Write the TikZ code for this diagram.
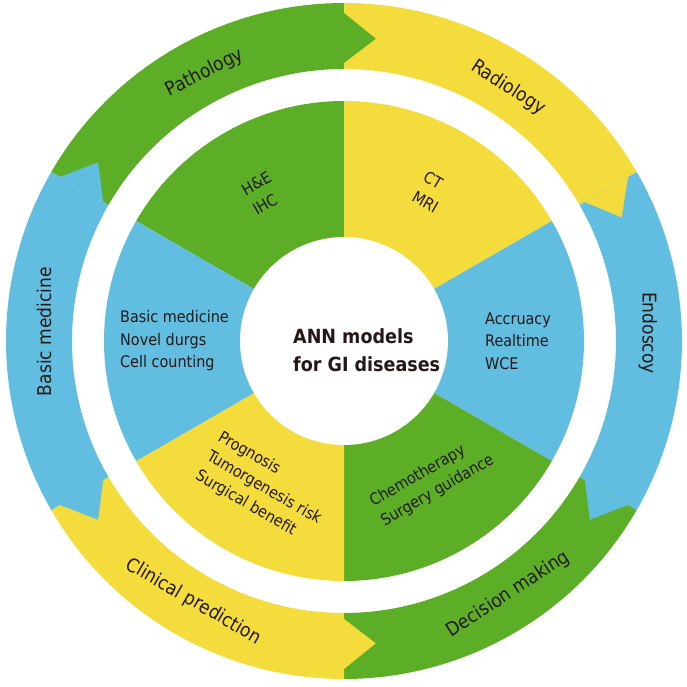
\documentclass[tikz,border=0pt]{standalone}
\usepackage{fontspec}
\setmainfont{DejaVu Sans Condensed}

\definecolor{pathgreen}{RGB}{92,174,38}
\definecolor{radyellow}{RGB}{244,220,60}
\definecolor{endoblue}{RGB}{98,190,224}
\definecolor{textdark}{RGB}{35,24,21}

\begin{document}
\begin{tikzpicture}[x=1pt, y=1pt,
        innertext/.style={text=textdark, font=\fontsize{16}{22.5}\selectfont, align=left, inner sep=0pt},
        ringtext/.style={text=textdark, font=\fontsize{19}{22}\selectfont, inner sep=0pt}]
        \useasboundingbox (-344,-346) rectangle (343,341);

        % inner pie
        \fill[pathgreen] (0,0) -- (90:240) arc[start angle=90, end angle=150, radius=240] -- cycle;
        \fill[radyellow] (0,0) -- (30:240) arc[start angle=30, end angle=90, radius=240] -- cycle;
        \fill[endoblue] (0,0) -- (-30:240) arc[start angle=-30, end angle=30, radius=240] -- cycle;
        \fill[pathgreen] (0,0) -- (-90:240) arc[start angle=-90, end angle=-30, radius=240] -- cycle;
        \fill[radyellow] (0,0) -- (-150:240) arc[start angle=-150, end angle=-90, radius=240] -- cycle;
        \fill[endoblue] (0,0) -- (150:240) arc[start angle=150, end angle=210, radius=240] -- cycle;
        \fill[white] (0,0) circle (104);

        % outer ring
        \fill[pathgreen] (90:272) -- (90:338) arc[start angle=90, end angle=150, radius=338] -- (150:272) arc[start angle=150, end angle=90, radius=272] -- cycle;
        \fill[radyellow] (30:272) -- (30:338) arc[start angle=30, end angle=90, radius=338] -- (90:272) arc[start angle=90, end angle=30, radius=272] -- cycle;
        \fill[endoblue] (-30:272) -- (-30:338) arc[start angle=-30, end angle=30, radius=338] -- (30:272) arc[start angle=30, end angle=-30, radius=272] -- cycle;
        \fill[pathgreen] (-90:272) -- (-90:338) arc[start angle=-90, end angle=-30, radius=338] -- (-30:272) arc[start angle=-30, end angle=-90, radius=272] -- cycle;
        \fill[radyellow] (-150:272) -- (-150:338) arc[start angle=-150, end angle=-90, radius=338] -- (-90:272) arc[start angle=-90, end angle=-150, radius=272] -- cycle;
        \fill[endoblue] (150:272) -- (150:338) arc[start angle=150, end angle=210, radius=338] -- (210:272) arc[start angle=210, end angle=150, radius=272] -- cycle;

        % arrow tips
        \fill[pathgreen] (90:278) -- (90:328) -- (84:304) -- cycle;
        \fill[radyellow] (30:278) -- (30:328) -- (24:304) -- cycle;
        \fill[endoblue] (-30:278) -- (-30:328) -- (-36:304) -- cycle;
        \fill[radyellow] (-90:278) -- (-90:328) -- (-84:304) -- cycle;
        \fill[endoblue] (150:278) -- (150:328) -- (144:304) -- cycle;
        \fill[endoblue] (210:278) -- (210:328) -- (216:304) -- cycle;

        % labels
        \node[text=textdark, font=\bfseries\fontsize{19.5}{28}\selectfont, align=left, inner sep=0pt, anchor=west] (annmodels) at (-51,-9) {ANN models\\for GI diseases};

        \node[innertext, rotate=30] (hecell) at (-82,148) {H\&E\\IHC};
        \node[innertext, rotate=-30] (ctmri) at (87,149) {CT\\MRI};
        \node[innertext, anchor=west] (accuracy) at (141,0) {Accruacy\\Realtime\\WCE};
        \node[innertext, rotate=30] (chemo) at (88,-140) {Chemotherapy\\Surgery guidance};
        \node[innertext, rotate=-30] (prognosis) at (-80,-147) {Prognosis\\Tumorgenesis risk\\Surgical benefit};
        \node[innertext, anchor=west] (basiclist) at (-224,0) {Basic medicine\\Novel durgs\\Cell counting};

        \node[ringtext, rotate=27] (pathology) at (117.4:302) {Pathology};
        \node[ringtext, rotate=-33] (radiology) at (57:302) {Radiology};
        \node[ringtext, rotate=-90] (endoscopy) at (1.5:304) {Endoscoy};
        \node[ringtext, rotate=33] (decision) at (-57:302) {Decision making};
        \node[ringtext, rotate=-30] (clinical) at (240:301) {Clinical prediction};
        \node[ringtext, rotate=90] (basicring) at (178.2:300) {Basic medicine};
\end{tikzpicture}
\end{document}
